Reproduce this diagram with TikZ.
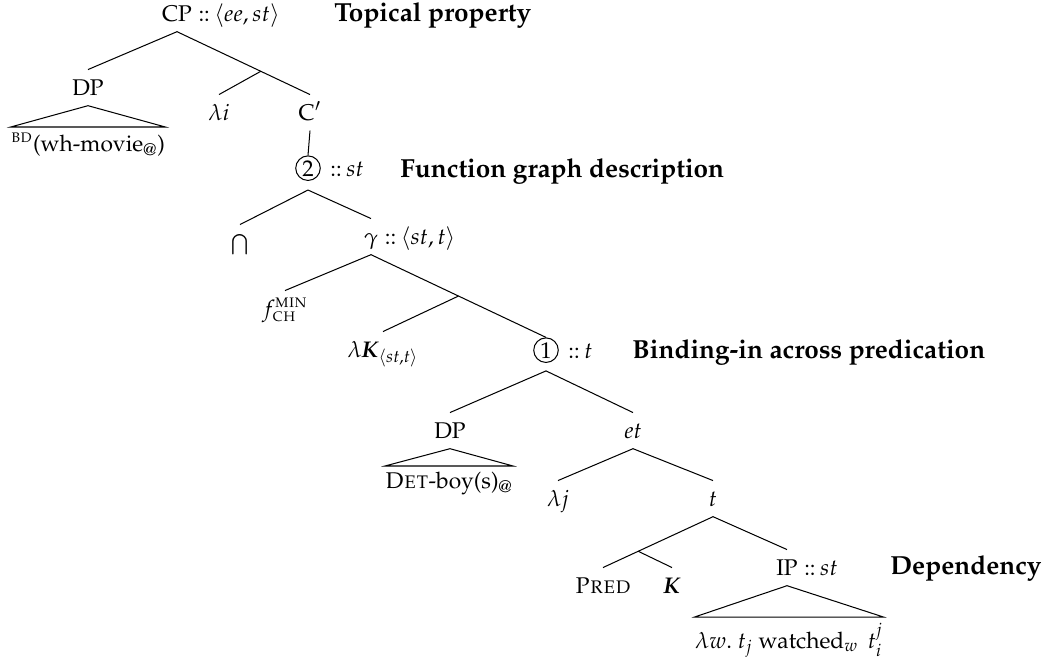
\documentclass[tikz,border=0pt]{standalone}
\usepackage{amsmath}
\usepackage[T1]{fontenc}
\usepackage{mathpazo}
\usetikzlibrary{calc}
\begin{document}
\begin{tikzpicture}[x=0.44pt,y=-0.44pt,
  tn/.style={anchor=base, inner sep=2.5pt, text height=8.5pt, text depth=2pt},
  lab/.style={anchor=base west, inner sep=0pt},
  note/.style={anchor=base west, inner sep=0pt, font=\fontsize{11.5}{14}\selectfont\bfseries},
  roofnode/.style={anchor=north, inner xsep=0pt, inner ysep=2.5pt},
  circ/.style={circle, draw, anchor=base, inner sep=0.8pt, line width=0.45pt},
  edge/.style={line width=0.45pt}]
\useasboundingbox (0,0) rectangle (1042,659);
% top level
\node[tn, text height=7pt] (CP) at (177,21) {CP};
\node[lab] (CPt) at (CP.base east) {::\hspace{2pt}$\langle ee, st\rangle$};
\node[note] (T1) at (334,21) {Topical property};
\node[tn] (DP1) at (88,95) {DP};
\node[roofnode] (R1) at (88,127) {${}^{\textsc{bd}}$(wh-movie$_{@}$)};
\draw[edge] (DP1.south) -- (R1.north west) -- (R1.north east) -- cycle;
\node[tn] (LI) at (219,120) {$\lambda i$};
\node[tn] (CB) at (310,120) {C$'$};
\coordinate (X1) at ($(CP.south)!0.63!(CB.north)$);
\draw[edge] (CP.south) -- (DP1.north);
\draw[edge] (CP.south) -- (CB.north);
\draw[edge] (X1) -- (LI.north);
% circle 2
\node[circ] (C2) at (308,176) {2};
\node[lab] (C2t) at ([xshift=4pt]C2.east |- C2.base) {::\hspace{2pt}$st$};
\node[note] (T2) at (400,177) {Function graph description};
\draw[edge] (CB.south) -- (C2.north);
\coordinate (A2) at ([yshift=-4pt]C2.south);
\node[tn] (CAP) at (240,250) {$\bigcap$};
\node[tn] (G) at (371,244) {$\gamma$};
\node[lab] (Gt) at (G.base east) {::\hspace{2pt}$\langle st, t\rangle$};
\draw[edge] (A2) -- (CAP.north);
\draw[edge] (A2) -- (G.north);
% gamma
\node[tn] (F) at (285,316) {$f^{\textsc{min}}_{\textsc{ch}}$};
\node[tn] (LK) at (383,357) {$\lambda\textbf{\textit{K}}_{\langle st,t\rangle}$};
\node[circ] (C1) at (546,358) {1};
\node[lab] (C1t) at ([xshift=4pt]C1.east |- C1.base) {::\hspace{2pt}$t$};
\node[note] (T3) at (632,358) {Binding-in across predication};
\coordinate (Y) at ($(G.south)!0.5!(C1.north)$);
\draw[edge] (G.south) -- (F.north);
\draw[edge] (G.south) -- (C1.north);
\draw[edge] (Y) -- (LK.north);
% circle 1
\coordinate (A1) at ([yshift=-3.5pt]C1.south);
\node[tn] (DP2) at (450,438) {DP};
\node[roofnode] (R2) at (449,466) {\textsc{Det}-boy(s)$_{@}$};
\node[tn] (ET) at (633,438) {$et$};
\draw[edge] (A1) -- (DP2.north);
\draw[edge] (A1) -- (ET.north);
\draw[edge] (DP2.south) -- (R2.north west) -- (R2.north east) -- cycle;
% et
\node[tn] (LJ) at (558,506) {$\lambda j$};
\node[tn] (TT) at (713,506) {$t$};
\draw[edge] (ET.south) -- (LJ.north);
\draw[edge] (ET.south) -- (TT.north);
% t
\node[tn] (PRED) at (603,593) {\textsc{Pred}};
\node[tn] (KK) at (672,593) {\textbf{\textit{K}}};
\node[tn] (IP) at (787,575) {IP};
\node[lab] (IPt) at (IP.base east) {::\hspace{2pt}$st$};
\node[note] (T4) at (890,574) {Dependency};
\coordinate (W) at ($(TT.south)!0.68!(PRED.north)$);
\draw[edge] (TT.south) -- (PRED.north);
\draw[edge] (W) -- (KK.north);
\draw[edge] (TT.south) -- (IP.north);
\node[roofnode] (R3) at (789,617) {$\lambda w.\ t_j$ watched$_w$ \,$t_i^j$};
\draw[edge] (IP.south) -- (R3.north west) -- (R3.north east) -- cycle;
\end{tikzpicture}
\end{document}
